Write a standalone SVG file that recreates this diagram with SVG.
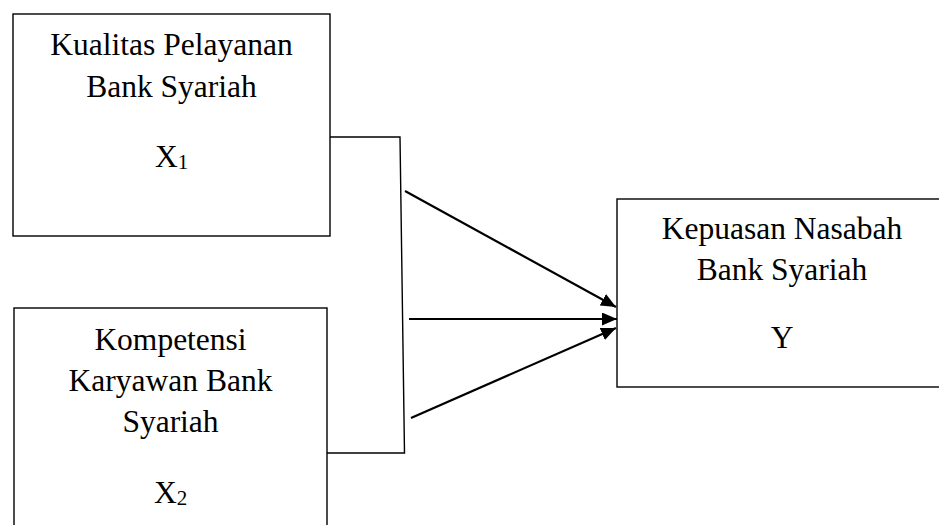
<svg xmlns="http://www.w3.org/2000/svg" width="939" height="525" viewBox="0 0 939 525">
<style>
.box{fill:#fff;stroke:#000;stroke-width:1.4}
.t{font-family:"Liberation Serif","Times New Roman",serif;font-size:31.5px;fill:#000;text-anchor:middle}
.sub{font-size:21px}
.ln{fill:none;stroke:#000;stroke-width:1.4}
.ar{fill:none;stroke:#000;stroke-width:2.2}
</style>
<defs>
<marker id="ah" markerWidth="15" markerHeight="13" refX="15" refY="6.5" orient="auto" markerUnits="userSpaceOnUse">
<path d="M0,0 L15,6.5 L0,13 Z" fill="#000"/>
</marker>
</defs>
<rect width="939" height="525" fill="#fff"/>
<g id="node-x1">
<rect class="box" x="13" y="14" width="317" height="222"/>
<text class="t" x="171.5" y="55">Kualitas Pelayanan</text>
<text class="t" x="171.5" y="97">Bank Syariah</text>
<text class="t" x="171.5" y="167">X<tspan class="sub" dy="2">1</tspan></text>
</g>
<g id="node-x2">
<rect class="box" x="14" y="308" width="313" height="240"/>
<text class="t" x="170.5" y="350">Kompetensi</text>
<text class="t" x="170.5" y="391">Karyawan Bank</text>
<text class="t" x="170.5" y="432">Syariah</text>
<text class="t" x="170.5" y="503">X<tspan class="sub" dy="2">2</tspan></text>
</g>
<g id="node-y">
<rect class="box" x="617" y="199" width="340" height="188"/>
<text class="t" x="782" y="239">Kepuasan Nasabah</text>
<text class="t" x="782" y="280">Bank Syariah</text>
<text class="t" x="782" y="348">Y</text>
</g>
<g id="connectors">
<path class="ln" d="M330,137 L400,137 L404.5,453 L327,453"/>
<line class="ar" x1="405" y1="191" x2="616" y2="307" marker-end="url(#ah)"/>
<line class="ar" x1="409" y1="319" x2="617" y2="319" marker-end="url(#ah)"/>
<line class="ar" x1="411" y1="418" x2="616" y2="328" marker-end="url(#ah)"/>
</g>
</svg>
